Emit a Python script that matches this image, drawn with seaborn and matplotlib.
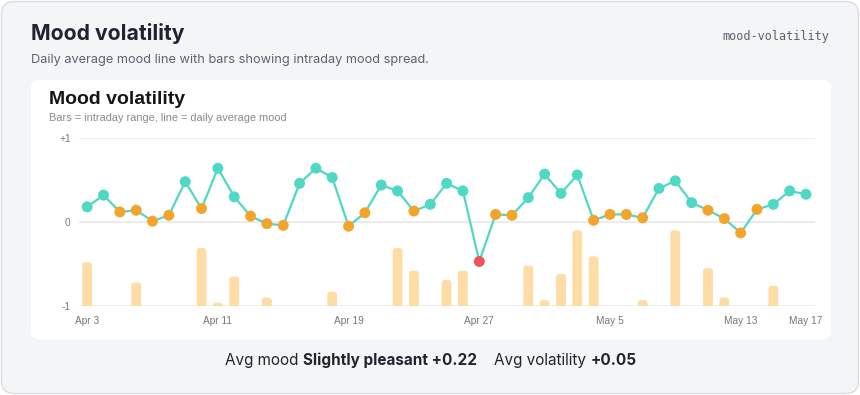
import numpy as np
import pandas as pd
import matplotlib
matplotlib.use("Agg")
import matplotlib.pyplot as plt
from matplotlib.patches import FancyBboxPatch
import seaborn as sns

# daily average mood, Apr 3 .. May 17
dates = pd.date_range("2024-04-03", "2024-05-17", freq="D")
avg_mood = [0.18, 0.32, 0.12, 0.14, 0.01, 0.08, 0.48, 0.16, 0.64, 0.30,
            0.07, -0.02, -0.04, 0.46, 0.64, 0.53, -0.05, 0.11, 0.44, 0.37,
            0.13, 0.21, 0.46, 0.37, -0.47, 0.09, 0.08, 0.29, 0.57, 0.34,
            0.56, 0.02, 0.09, 0.09, 0.05, 0.40, 0.49, 0.23, 0.14, 0.04,
            -0.13, 0.15, 0.21, 0.37, 0.33]
# intraday range (bar height above the -1 floor)
mood_range = [0.52, 0, 0, 0.28, 0, 0, 0, 0.69, 0.04, 0.35,
              0, 0.10, 0, 0, 0, 0.17, 0, 0, 0, 0.69,
              0.42, 0, 0.31, 0.42, 0, 0, 0, 0.48, 0.07, 0.38,
              0.90, 0.59, 0, 0, 0.07, 0, 0.90, 0, 0.45, 0.10,
              0, 0, 0.24, 0, 0]
tick_days = [0, 8, 16, 24, 32, 40, 44]

df = pd.DataFrame({"day": np.arange(len(dates)), "mood": avg_mood, "range": mood_range})
df["level"] = np.where(df["mood"] >= 0.17, "good", np.where(df["mood"] > -0.3, "mid", "low"))
palette = {"good": "#4fd8c4", "mid": "#f2a52a", "low": "#e8555a"}

sns.set_style("white")
plt.rcParams["font.family"] = ["Liberation Sans", "DejaVu Sans"]

fig = plt.figure(figsize=(8.6, 3.95), dpi=100)
fig.patch.set_facecolor("white")
W, H = 860, 395

def px(x, y):
    return x / W, 1 - y / H

# outer card
fig.patches.append(FancyBboxPatch(px(1.5, 393.5), 857 / W, 392 / H,
                                  boxstyle="round,pad=0,rounding_size=0.015",
                                  transform=fig.transFigure, facecolor="#f4f5f7",
                                  edgecolor="#d9dce1", linewidth=1, mutation_aspect=W / H,
                                  zorder=-10))
# inner card
fig.patches.append(FancyBboxPatch(px(31, 339.5), 800 / W, 259.5 / H,
                                  boxstyle="round,pad=0,rounding_size=0.009",
                                  transform=fig.transFigure, facecolor="white",
                                  edgecolor="none", mutation_aspect=W / H, zorder=-9))

fig.text(*px(31, 40), "Mood volatility", fontsize=15.2, fontweight="bold",
         color="#1f2430", family=["Inter", "DejaVu Sans"])
fig.text(*px(31, 63), "Daily average mood line with bars showing intraday mood spread.",
         fontsize=9.2, color="#5b6270", family=["Inter", "DejaVu Sans"])
fig.text(*px(829, 40), "mood-volatility", fontsize=8.6, color="#5b6270", ha="right",
         family=["DejaVu Sans Mono"])
fig.text(*px(49, 104), "Mood volatility", fontsize=14, fontweight="bold", color="#151515")
fig.text(*px(49, 121), "Bars = intraday range, line = daily average mood",
         fontsize=7.9, color="#8a8a8a")

ax = fig.add_axes([79 / W, 89 / H, 736 / W, 168 / H])
ax.set_facecolor("none")

for y in [-1, 0, 1]:
    ax.axhline(y, color="#ebebeb", lw=1.3, zorder=0)

# bars with rounded tops; bottom pushed below the floor and clipped
bars = ax.bar(df["day"], df["range"], bottom=-1, width=0.6)
for b in list(bars):
    h = b.get_height()
    if h > 0:
        fb = FancyBboxPatch((b.get_x(), -1.1), b.get_width(), h + 0.1,
                            boxstyle="round,pad=0,rounding_size=0.18",
                            mutation_aspect=0.195, facecolor="#fddca6",
                            edgecolor="none", zorder=1)
        ax.add_patch(fb)
    b.remove()

sns.lineplot(data=df, x="day", y="mood", color="#4fd8c4", lw=1.6, ax=ax, zorder=2)
sns.scatterplot(data=df, x="day", y="mood", hue="level", palette=palette, s=62,
                edgecolor="none", legend=False, ax=ax, zorder=3, clip_on=False)

ax.set_xlim(-0.5, 44.55)
ax.set_ylim(-1, 1)
ax.set_yticks([-1, 0, 1])
ax.set_yticklabels(["-1", "0", "+1"])
ax.set_xticks(tick_days)
ax.set_xticklabels([f"{dates[d].strftime('%b')} {dates[d].day}" for d in tick_days])
ax.tick_params(axis="both", length=0, labelsize=7.3, labelcolor="#777777")
ax.tick_params(axis="y", pad=6)
ax.tick_params(axis="x", pad=7)
ax.set_xlabel("")
ax.set_ylabel("")
sns.despine(ax=ax, left=True, bottom=True)

# footer with mixed weights
parts = [("Avg mood ", "normal"), ("Slightly pleasant +0.22", "bold"),
         ("    Avg volatility ", "normal"), ("+0.05", "bold")]
renderer = fig.canvas.get_renderer()
texts = []
for s, w in parts:
    t = fig.text(0, 1 - 365 / H, s, fontsize=11.0, fontweight=w, color="#1f2430",
                 family=["Inter", "DejaVu Sans"])
    texts.append(t)
widths = [t.get_window_extent(renderer).width for t in texts]
start = 431 - sum(widths) / 2
for t, w in zip(texts, widths):
    t.set_x(start / W)
    start += w

fig.savefig("out.png", dpi=100)
